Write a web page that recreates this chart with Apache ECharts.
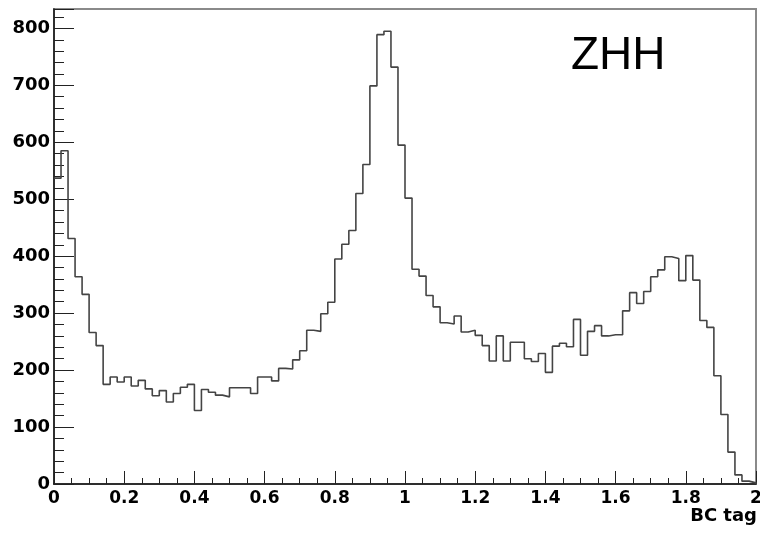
<!DOCTYPE html>
<html>
<head>
<meta charset="utf-8">
<script src="https://cdn.jsdelivr.net/npm/echarts@6/dist/echarts.min.js"></script>
<style>
html,body{margin:0;padding:0;background:#fff;}
#chart{width:760px;height:535px;}
</style>
</head>
<body>
<div id="chart"></div>
<script>
// Histogram binning (100 bins from 0 to 2)
var binStart = 0;
var binWidth = 0.02;
// Bin contents
var counts = [
  537, 585, 431, 364, 333, 266, 243, 175, 188, 179,
  188, 172, 182, 167, 155, 164, 144, 159, 170, 175,
  129, 166, 161, 156, 153, 169, 169, 169, 159, 188,
  188, 181, 203, 202, 218, 234, 270, 268, 299, 319,
  395, 421, 445, 510, 561, 699, 789, 795, 732, 595,
  502, 377, 365, 331, 311, 283, 281, 295, 267, 270,
  261, 243, 216, 260, 216, 249, 249, 220, 215, 229,
  196, 242, 247, 241, 289, 226, 268, 278, 260, 262,
  262, 304, 336, 317, 338, 364, 376, 399, 396, 357,
  401, 358, 287, 275, 190, 122, 56, 16, 5, 2
];
var xTitle = 'BC tag';
var sampleLabel = 'ZHH';
var xMin = 0, xMax = 2, xInterval = 0.2;
var yMin = 0, yMax = 834, yInterval = 100;

var stepData = [];
for (var i = 0; i < counts.length; i++) {
  stepData.push([+(binStart + i * binWidth).toFixed(4), counts[i]]);
}
stepData.push([+(binStart + counts.length * binWidth).toFixed(4), counts[counts.length - 1]]);
stepData.push([+(binStart + counts.length * binWidth).toFixed(4), 0]);

var chart = echarts.init(document.getElementById('chart'), null, {renderer: 'canvas'});
chart.setOption({
  animation: false,
  backgroundColor: '#ffffff',
  grid: {
    left: 54, top: 9, right: 4, bottom: 51,
    outerBoundsMode: 'none', containLabel: false,
    show: true, borderColor: '#8a8a8a', borderWidth: 2, backgroundColor: 'transparent'
  },
  xAxis: {
    type: 'value', min: xMin, max: xMax, interval: xInterval,
    axisLine: {show: true, lineStyle: {color: '#111', width: 1.5}},
    axisTick: {show: true, inside: true, length: 13, lineStyle: {color: '#222', width: 1}},
    minorTick: {show: true, splitNumber: 4, length: 6, lineStyle: {color: '#222', width: 1}},
    splitLine: {show: false},
    axisLabel: {
      margin: 6, color: '#000', fontFamily: 'DejaVu Sans', fontWeight: 'bold', fontSize: 17,
      hideOverlap: false
    }
  },
  yAxis: {
    type: 'value', min: yMin, max: yMax, interval: yInterval,
    axisLine: {show: true, lineStyle: {color: '#111', width: 1.5}},
    axisTick: {show: true, inside: true, length: 20, lineStyle: {color: '#222', width: 1}},
    minorTick: {show: true, splitNumber: 5, length: 10, lineStyle: {color: '#222', width: 1}},
    splitLine: {show: false},
    axisLabel: {
      margin: 4, showMaxLabel: false, color: '#000', fontFamily: 'DejaVu Sans', fontWeight: 'bold', fontSize: 18
    }
  },
  graphic: [
    {
      type: 'text', x: 757, y: 507,
      style: {text: xTitle, textAlign: 'right', textVerticalAlign: 'top',
        fill: '#000', font: 'bold 18px "DejaVu Sans"'}
    },
    {
      type: 'text', x: 571, y: 56,
      style: {text: sampleLabel, textAlign: 'left', textVerticalAlign: 'middle',
        fill: '#000', font: 'normal 46px "Liberation Sans"'}
    }
  ],
  series: [{
    type: 'line',
    step: 'end',
    data: stepData,
    showSymbol: false,
    symbol: 'none',
    clip: true,
    lineStyle: {color: '#444', width: 1.6},
    z: 3
  }]
});
</script>
</body>
</html>
